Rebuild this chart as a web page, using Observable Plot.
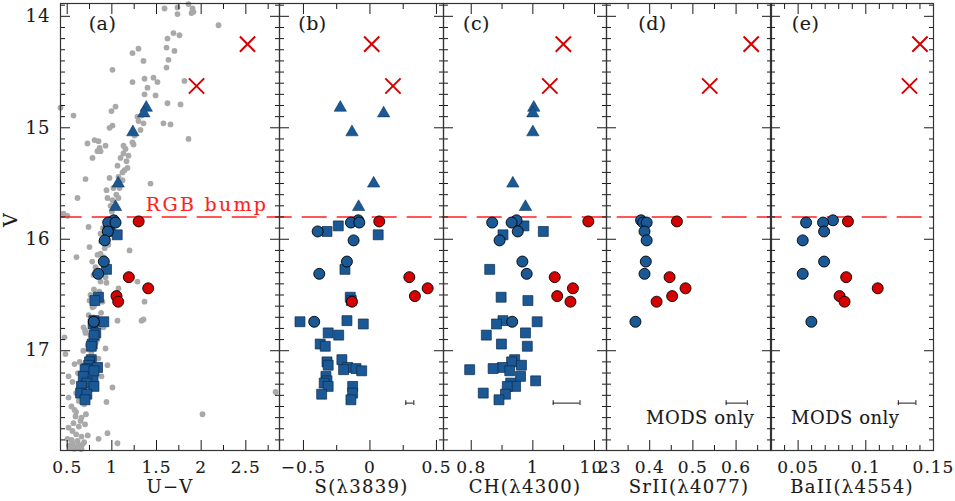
<!DOCTYPE html>
<html><head><meta charset="utf-8">
<script src="https://cdn.jsdelivr.net/npm/d3@7"></script>
<script src="https://cdn.jsdelivr.net/npm/@observablehq/plot@0.6"></script>
<style>
body{margin:0;background:#fff;}
#chart{position:relative;width:955px;height:501px;overflow:visible;}
#chart svg{position:absolute;left:0;top:0;overflow:visible;background:transparent;}
</style></head><body><div id="chart"></div>
<script>
// ---------- data ----------
// field stars (grey), panel (a)
const fieldUV = [1.59,1.735,1.858,1.903,1.892,1.914,1.735,2.194,1.69,1.757,1.623,1.612,1.298,1.701,1.231,1.634,1.354,1.612,1.007,1.366,1.466,1.511,1.231,1.813,1.399,1.366,1.489,1.623,1.769,1.041,0.425,0.996,0.571,1.287,1.298,1.332,1.578,1.354,1.657,0.974,1.007,1.321,1.254,1.858,1.231,1.243,0.806,0.851,0.727,0.929,1.13,1.153,0.862,0.839,0.873,1.13,0.783,1.097,1.186,1.164,1.175,1.063,1.119,1.142,1.074,0.705,0.974,1.119,1.433,1.018,0.94,1.086,0.615,1.074,0.951,1.007,0.985,1.018,0.459,0.503,0.739,0.985,0.873,0.75,
  0.604,1.198,0.839,0.873,0.906,0.817,0.929,0.94,0.795,0.873,1.287,1.074,1.366,0.761,0.783,0.895,1.063,1.332,1.354,0.683,0.705,0.906,0.839,0.47,0.929,0.481,0.582,0.951,0.515,0.559,0.884,1.007,0.515,0.94,0.548,0.582,0.593,0.649,0.515,0.559,0.951,0.851,1.063,2.015,2.833,0.503,0.559,0.615,0.671,0.537,0.593,0.649,
  0.78,0.83,0.80,0.86,0.75,0.80,0.74,0.79,0.88,0.70,0.76,0.73,0.82,0.68,0.77,0.64,0.85,0.70,0.62,0.79,0.66,0.60,0.74,0.63,0.69,0.60,0.66,0.71,0.57,0.63,0.70,0.60,0.66,0.73,0.55,0.62,0.69,0.58,0.52,0.66,0.90,0.93,0.88,0.96,0.92,0.99,1.00,1.05];
const fieldV = [13.93,13.92,13.89,13.93,13.97,13.96,13.98,14.08,14.15,14.17,14.2,14.28,14.29,14.31,14.33,14.39,14.4,14.46,14.48,14.56,14.55,14.59,14.59,14.58,14.64,14.7,14.71,14.78,14.79,14.81,14.82,14.85,14.89,14.9,14.94,14.89,14.96,14.96,14.97,15.0,14.98,15.02,15.07,15.1,15.13,15.15,15.11,15.12,15.14,15.16,15.16,15.19,15.18,15.21,15.21,15.23,15.27,15.27,15.25,15.3,15.36,15.34,15.4,15.38,15.44,15.46,15.45,15.47,15.5,15.54,15.56,15.54,15.63,15.63,15.63,15.65,15.7,15.71,15.77,15.79,15.89,15.85,15.95,16.07,
  16.16,16.1,16.14,16.13,16.16,16.25,16.34,16.39,16.32,16.38,16.38,16.44,16.56,16.5,16.61,16.56,16.73,16.73,16.72,16.79,16.84,16.79,16.9,16.88,16.98,17.03,17.12,17.13,17.23,17.28,17.23,17.33,17.42,17.46,17.5,17.53,17.59,17.63,17.69,17.72,17.74,17.79,17.83,17.57,17.37,17.79,17.83,17.81,17.84,17.87,17.87,17.88,
  16.2,16.28,16.45,16.47,16.55,16.6,16.68,16.7,16.66,16.82,16.86,16.95,16.93,17.0,17.02,17.1,17.07,17.16,17.2,17.25,17.32,17.38,17.36,17.45,17.48,17.55,17.6,17.57,17.65,17.68,17.66,17.75,17.77,17.76,17.8,17.85,17.82,17.88,17.85,17.88,15.9,15.98,16.02,16.05,16.08,15.92,15.75,15.6];

// blue squares
const sqV  = [15.88,15.93,15.96,16.27,16.52,16.55,16.73,16.74,16.76,16.84,16.86,16.94,16.96,17.08,17.10,17.13,17.15,17.16,17.17,17.18,17.23,17.27,17.29,17.32,17.32,17.38,17.39,17.44];
const sqUV = [0.98,0.96,1.06,0.94,0.85,0.81,0.80,0.91,0.79,0.82,0.80,0.78,0.77,0.77,0.75,0.74,0.84,0.72,0.70,0.80,0.68,0.79,0.72,0.80,0.66,0.65,0.72,0.70];
const sqS  = [-0.238,-0.323,0.062,-0.188,-0.148,-0.14,-0.173,-0.526,-0.05,-0.314,-0.235,-0.374,-0.336,-0.211,-0.323,-0.314,-0.168,-0.105,-0.198,-0.062,-0.331,-0.323,-0.344,-0.13,-0.314,-0.13,-0.363,-0.143];
const sqCH = [0.971,1.034,0.903,0.860,0.897,0.984,0.903,1.014,0.882,0.976,0.849,0.898,0.982,0.941,0.931,0.963,0.901,0.871,0.795,0.925,0.960,1.009,0.928,0.944,0.917,0.839,0.911,0.890];

// blue triangles
const triV  = [14.82,14.87,15.04,15.50,15.71];
const triUV = [1.385,1.358,1.235,1.071,1.041];
const triS  = [-0.223,0.103,-0.135,0.028,-0.085];
const triCH = [1.003,1.0,1.0,0.935,0.976];

// blue circles (MODS)
const circV  = [15.83,15.85,15.85,15.93,16.01,16.20,16.31,16.74];
const circUV = [1.022,0.959,1.041,0.955,0.921,0.910,0.847,0.798];
const circS  = [-0.088,-0.143,-0.080,-0.393,-0.123,-0.173,-0.381,-0.419];
const circCH = [0.947,0.868,0.931,0.951,0.892,0.966,0.980,0.933];
const circSr = [0.380,0.385,0.393,0.388,0.393,0.391,0.388,0.367];
const circBa = [0.0757,0.0559,0.0684,0.0692,0.0534,0.0692,0.0534,0.0598];

// red circles
const redV  = [15.84,16.34,16.44,16.51,16.56];
const redUV = [1.30,1.19,1.407,1.052,1.071];
const redS  = [0.07,0.296,0.434,0.338,-0.135];
const redCH = [1.18,1.071,1.13,1.079,1.122];
const redSr = [0.463,0.446,0.483,0.452,0.416];
const redBa = [0.0868,0.0855,0.1088,0.0806,0.0843];

// red crosses
const crossV  = [14.25,14.625];
const crossUV = [2.519,1.948];
const crossS  = [0.013,0.173];
const crossCH = [1.099,1.055];
const crossSr = [0.635,0.539];
const crossBa = [0.140,0.1323];

// typical error bars
const errV  = 17.47;
const errS  = [0.27,0.33];
const errCH = [1.066,1.153];
const errSr = [0.577,0.626];
const errBa = [0.124,0.137];

const rgbBumpV = 15.80;
const rgbBumpLabel = "RGB bump";
const rgbBumpLabelUV = 1.38;

const yMajor = [14,15,16,17];
const yMinor = d3.range(139,179).map(d => d/10).filter(d => !yMajor.includes(d));

const xLabels = ["U\u2212V","S(\u03bb3839)","CH(\u03bb4300)","SrII(\u03bb4077)","BaII(\u03bb4554)"];
const tags = ["(a)","(b)","(c)","(d)","(e)"];
const modsLabel = "MODS only";
const xMajorA = [0.5,1,1.5,2,2.5],   xMinorA = [0.75,1.25,1.75,2.25,2.75];
const xMajorB = [-0.5,0,0.5],        xMinorB = [-0.25,0.25];
const xMajorC = [0.8,1,1.2],         xMinorC = [0.9,1.1];
const xMajorD = [0.3,0.4,0.5,0.6],   xMinorD = [0.35,0.45,0.55,0.65];
const xMajorE = [0.05,0.1,0.15],     xMinorE = [0.04,0.06,0.07,0.08,0.09,0.11,0.12,0.13,0.14];

// ---------- layout ----------
const W = 955, H = 501, TOP = 3, BOTTOM = 450;
const yDomain = [13.885, 17.895];
const blue = "#1b5996", blueEdge = "#0d2a4a", red = "#d50000", lineRed = "#ff2020", grey = "#a9a9a9", ink = "#1a1a1a";

const panels = [
  {domain:[0.425,2.877], left:60,  right:279, sq:sqUV, tri:triUV, circ:circUV, red:redUV, cross:crossUV, err:null, major:xMajorA, minor:xMinorA, tagDx:42},
  {domain:[-0.68,0.553], left:279, right:443, sq:sqS,  tri:triS,  circ:circS,  red:redS,  cross:crossS,  err:errS, major:xMajorB, minor:xMinorB, tagDx:33},
  {domain:[0.71,1.239],  left:443, right:606, sq:sqCH, tri:triCH, circ:circCH, red:redCH, cross:crossCH, err:errCH, major:xMajorC, minor:xMinorC, tagDx:33},
  {domain:[0.30,0.682],  left:606, right:771, sq:null, tri:null,  circ:circSr, red:redSr, cross:crossSr, err:errSr, major:xMajorD, minor:xMinorD, tagDx:46, mods:-17},
  {domain:[0.0296,0.15], left:770, right:933, sq:null, tri:null,  circ:circBa, red:redBa, cross:crossBa, err:errBa, major:xMajorE, minor:xMinorE, tagDx:35, mods:-34}
];

const pair = (vs, xs) => vs.map((v,i) => ({v, x: xs[i]}));
const fmt = d3.format("");
const chart = document.getElementById("chart");

panels.forEach((p, i) => {
  const marks = [];
  if (i === 0) marks.push(Plot.dot(pair(fieldV, fieldUV), {x:"x", y:"v", r:2.9, fill:grey}));
  const dashOff = (((p.left - 56.7) % 35) + 35) % 35;
  marks.push(Plot.ruleY([rgbBumpV], {y: d => d, stroke: lineRed, strokeWidth: 1.6, strokeDasharray: "25,10", strokeDashoffset: dashOff}));
  if (i === 0) marks.push(Plot.text([rgbBumpLabel], {x: () => rgbBumpLabelUV, y: () => rgbBumpV, text: d => d, textAnchor: "start", lineAnchor: "middle", dy: -12, fill: lineRed, fontSize: 19}));
  if (p.sq) marks.push(Plot.dot(pair(sqV, p.sq), {x:"x", y:"v", symbol:"square", r:5.6, fill:blue, stroke:blueEdge, strokeWidth:0.7}));
  if (p.tri) marks.push(Plot.dot(pair(triV, p.tri), {x:"x", y:"v", symbol:"triangle", r:4.6, fill:blue, stroke:blueEdge, strokeWidth:0.5}));
  marks.push(Plot.dot(pair(circV, p.circ), {x:"x", y:"v", r:5.5, fill:blue, stroke:"#000", strokeWidth:0.9}));
  marks.push(Plot.dot(pair(redV, p.red), {x:"x", y:"v", r:5.5, fill:red, stroke:"#000", strokeWidth:0.9}));
  marks.push(Plot.dot(pair(crossV, p.cross), {x:"x", y:"v", symbol:"times", r:7, stroke:red, strokeWidth:2}));
  if (p.err) {
    marks.push(Plot.ruleY([{v: errV, x1: p.err[0], x2: p.err[1]}], {y:"v", x1:"x1", x2:"x2", stroke: ink, strokeWidth: 1}));
    marks.push(Plot.ruleX(p.err.map(x => ({x, y1: errV - 0.022, y2: errV + 0.022})), {x:"x", y1:"y1", y2:"y2", stroke: ink, strokeWidth: 1}));
  }
  if (p.mods !== undefined) marks.push(Plot.text([modsLabel], {frameAnchor: "bottom-right", text: d => d, dx: p.mods, dy: -32, textAnchor: "end", lineAnchor: "middle", fontSize: 18, fill: ink}));
  // panel tags
  marks.push(Plot.text([tags[i]], {frameAnchor: "top-left", text: d => d, dx: p.tagDx, dy: 20, textAnchor: "middle", lineAnchor: "middle", fontSize: 19, fill: ink}));
  // ticks (inward)
  const tk = {label: null, fill: "none", stroke: ink, strokeWidth: 1};
  marks.push(Plot.axisY({...tk, anchor:"left",  ticks: yMajor, tickSize: 10, dx: 10}));
  marks.push(Plot.axisY({...tk, anchor:"left",  ticks: yMinor, tickSize: 5,  dx: 5}));
  marks.push(Plot.axisY({...tk, anchor:"right", ticks: yMajor, tickSize: 10, dx: -10}));
  marks.push(Plot.axisY({...tk, anchor:"right", ticks: yMinor, tickSize: 5,  dx: -5}));
  marks.push(Plot.axisX({...tk, anchor:"bottom", ticks: p.major, tickSize: 10, dy: -10}));
  marks.push(Plot.axisX({...tk, anchor:"bottom", ticks: p.minor, tickSize: 5,  dy: -5}));
  marks.push(Plot.axisX({...tk, anchor:"top",    ticks: p.major, tickSize: 10, dy: 10}));
  marks.push(Plot.axisX({...tk, anchor:"top",    ticks: p.minor, tickSize: 5,  dy: 5}));
  // tick labels
  marks.push(Plot.axisX({anchor:"bottom", ticks: p.major, tickSize: 0, tickPadding: 10, tickFormat: fmt, label: null, fill: ink, fontSize: 17}));
  if (i === 0) {
    marks.push(Plot.axisY({anchor:"left", ticks: yMajor, tickSize: 0, tickPadding: 10, tickFormat: fmt, label: null, fill: ink, fontSize: 18}));
    marks.push(Plot.text(["V"], {frameAnchor: "left", text: d => d, dx: -50, dy: 0, rotate: -90, fontSize: 19, fill: ink}));
  }
  marks.push(Plot.text([xLabels[i]], {frameAnchor: "bottom", text: d => d, dy: 37, lineAnchor: "middle", fontSize: 18, fill: ink}));
  marks.push(Plot.frame({stroke: "#333", strokeWidth: 1.2}));

  const svg = Plot.plot({
    width: W, height: H,
    marginLeft: p.left, marginRight: W - p.right, marginTop: TOP, marginBottom: H - BOTTOM,
    x: {domain: p.domain},
    y: {domain: yDomain, reverse: true},
    style: {fontFamily: "'DejaVu Serif', serif", fontSize: "17px", background: "transparent", overflow: "visible", color: ink},
    marks
  });
  chart.appendChild(svg);
  // letter spacing and a very light stroke to mimic the wider original font
  d3.select(svg).selectAll("text").each(function() {
    const t = this.textContent;
    let ls = 1;
    if (t === rgbBumpLabel) ls = 2.3;
    else if (t === modsLabel) ls = 0.5;
    else if (xLabels.includes(t)) ls = 1.3;
    else if (tags.includes(t)) ls = 0.5;
    this.setAttribute("letter-spacing", ls);
    const f = getComputedStyle(this).fill;
    this.setAttribute("stroke", f);
    this.setAttribute("stroke-width", 0.12);
  });
});
</script></body></html>
